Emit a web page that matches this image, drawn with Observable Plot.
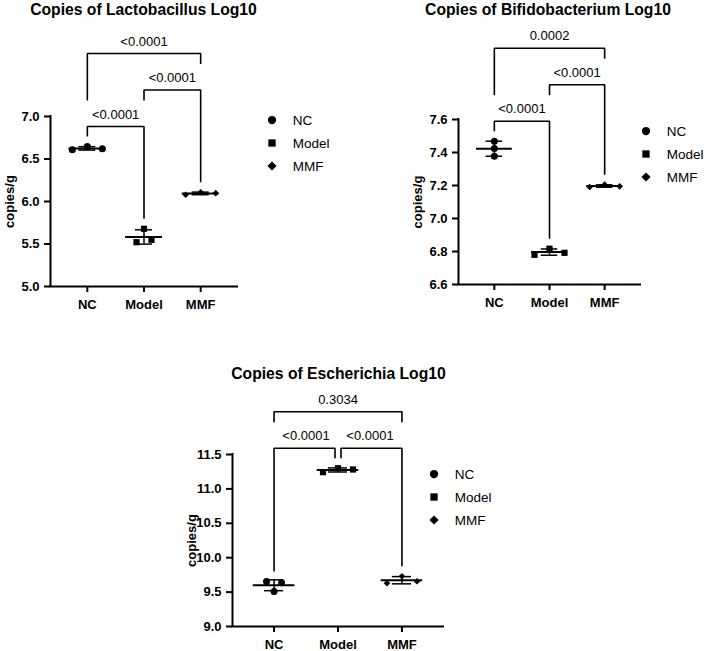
<!DOCTYPE html>
<html>
<head>
<meta charset="utf-8">
<script src="https://cdn.jsdelivr.net/npm/d3@7"></script>
<script src="https://cdn.jsdelivr.net/npm/@observablehq/plot@0.6"></script>
<style>
  body { margin: 0; background: #fff; }
  #page { position: relative; width: 704px; height: 651px; overflow: hidden;
          font-family: "Liberation Sans", Arial, sans-serif; color: #000; }
  .title { position: absolute; width: 400px; text-align: center; font-weight: bold;
           font-size: 15.7px; line-height: 15.7px; white-space: nowrap; }
  .panel, .legend { position: absolute; }
  .panel svg { display: block; overflow: visible; }
</style>
</head>
<body>
<div id="page"></div>
<script>
// Groups and their marker shapes
const groups = ["NC", "Model", "MMF"];
const groupSymbols = ["circle", "square", "diamond2"];

// Lactobacillus, log10 copies/g (three replicates per group)
const lactoNC = [6.608, 6.647, 6.620];
const lactoModel = [5.521, 5.679, 5.549];
const lactoMMF = [6.079, 6.109, 6.098];
const lactoTicks = [5.0, 5.5, 6.0, 6.5, 7.0];
const lactoComparisons = [
  ["NC", "Model", "<0.0001", 0],
  ["Model", "MMF", "<0.0001", 1],
  ["NC", "MMF", "<0.0001", 2]
];

// Bifidobacterium, log10 copies/g
const bifidoNC = [7.468, 7.424, 7.377];
const bifidoModel = [6.780, 6.817, 6.792];
const bifidoMMF = [7.191, 7.205, 7.195];
const bifidoTicks = [6.6, 6.8, 7.0, 7.2, 7.4, 7.6];
const bifidoComparisons = [
  ["NC", "Model", "<0.0001", 0],
  ["Model", "MMF", "<0.0001", 1],
  ["NC", "MMF", "0.0002", 2]
];

// Escherichia, log10 copies/g
const escherNC = [9.654, 9.509, 9.635];
const escherModel = [11.243, 11.301, 11.282];
const escherMMF = [9.629, 9.731, 9.658];
const escherTicks = [9.0, 9.5, 10.0, 10.5, 11.0, 11.5];
const escherComparisons = [
  ["NC", "Model", "<0.0001", 0],
  ["Model", "MMF", "<0.0001", 0],
  ["NC", "MMF", "0.3034", 1]
];

const FONT = '"Liberation Sans", Arial, sans-serif';
const page = document.getElementById("page");

function drawPanel({title, titleX, titleY, values, ticks, yDomain, comparisons, box, legendAt}) {
  const xDomain = [-0.65, 2.65];
  const innerW = box.width - box.marginLeft - box.marginRight;
  const innerH = box.height - box.marginTop - box.marginBottom;
  const pxX = innerW / (xDomain[1] - xDomain[0]);
  const pxY = innerH / (yDomain[1] - yDomain[0]);
  const yPx = (v) => box.marginTop + (yDomain[1] - v) * pxY;
  const yVal = (p) => yDomain[1] - (p - box.marginTop) / pxY;

  // Scatter points: replicates that would overlap vertically sit side by side
  const points = [];
  groups.forEach((g, gi) => {
    const vals = values[gi];
    const parent = vals.map((_, i) => i);
    const find = (i) => (parent[i] === i ? i : (parent[i] = find(parent[i])));
    for (let i = 0; i < vals.length; i++)
      for (let j = i + 1; j < vals.length; j++)
        if (Math.abs(vals[i] - vals[j]) * pxY < 6.8) parent[find(i)] = find(j);
    const rows = d3.group(vals.map((_, i) => i), find);
    for (const idx of rows.values())
      idx.forEach((i, k) => points.push({
        group: g, value: vals[i], x: gi + (k - (idx.length - 1) / 2) * 15 / pxX
      }));
  });

  // Mean ± SD per group
  const stats = groups.map((g, gi) => ({gi, mean: d3.mean(values[gi]), sd: d3.deviation(values[gi])}));

  // Significance brackets stacked in tiers above the data
  const topData = yPx(d3.max(values.flat()));
  const brs = comparisons.map(([a, b, label, tier]) => ({
    a: groups.indexOf(a), b: groups.indexOf(b), label, tier, top: topData - 20 - 36.5 * tier
  }));
  const lines = [];
  brs.forEach((br, k) => {
    const legEnd = (gi) => {
      const lower = brs.filter((o) => o.tier < br.tier && o.a <= gi && gi <= o.b);
      return lower.length ? d3.min(lower, (o) => o.top) - 26 : yPx(d3.max(values[gi])) - 10;
    };
    const shared = (gi) => brs.some((o) => o !== br && o.tier === br.tier && (o.a === gi || o.b === gi));
    const xa = br.a + (shared(br.a) ? 3 / pxX : 0);
    const xb = br.b - (shared(br.b) ? 3 / pxX : 0);
    lines.push(
      {k, x: xa, y: yVal(legEnd(br.a))},
      {k, x: xa, y: yVal(br.top)},
      {k, x: xb, y: yVal(br.top)},
      {k, x: xb, y: yVal(legEnd(br.b))}
    );
    br.xm = (br.a + br.b) / 2;
    br.y = yVal(br.top);
  });

  const chart = Plot.plot({
    width: box.width,
    height: box.height,
    marginLeft: box.marginLeft,
    marginRight: box.marginRight,
    marginTop: box.marginTop,
    marginBottom: box.marginBottom,
    x: {domain: xDomain},
    y: {domain: yDomain},
    symbol: {domain: groups, range: groupSymbols},
    style: {fontFamily: FONT, fontSize: "13px", color: "black", background: "transparent", overflow: "visible"},
    marks: [
      Plot.axisY({
        ticks, tickFormat: d3.format(".1f"), tickSize: 6, tickPadding: 5,
        fontWeight: "bold", fontSize: 13, strokeWidth: 2,
        label: "copies/g", labelAnchor: "center", labelArrow: false, labelOffset: 46
      }),
      Plot.axisX({
        ticks: [0, 1, 2], tickFormat: (i) => groups[i], tickSize: 6, tickPadding: 7,
        fontWeight: "bold", fontSize: 13, strokeWidth: 2, label: null
      }),
      Plot.ruleX([xDomain[0]], {y1: yDomain[0], y2: yDomain[1], strokeWidth: 2, strokeLinecap: "square"}),
      Plot.ruleY([yDomain[0]], {x1: xDomain[0], x2: xDomain[1], strokeWidth: 2, strokeLinecap: "square"}),
      Plot.ruleX(stats, {x: "gi", y1: (d) => d.mean - d.sd, y2: (d) => d.mean + d.sd, strokeWidth: 1.5}),
      Plot.ruleY(stats, {y: (d) => d.mean - d.sd, x1: (d) => d.gi - 0.15, x2: (d) => d.gi + 0.15, strokeWidth: 1.5}),
      Plot.ruleY(stats, {y: (d) => d.mean + d.sd, x1: (d) => d.gi - 0.15, x2: (d) => d.gi + 0.15, strokeWidth: 1.5}),
      Plot.ruleY(stats, {y: "mean", x1: (d) => d.gi - 0.325, x2: (d) => d.gi + 0.325, strokeWidth: 2}),
      Plot.dot(points, {filter: (d) => d.group !== "MMF", x: "x", y: "value", symbol: "group", fill: "black", r: 3.5}),
      Plot.dot(points, {filter: (d) => d.group === "MMF", x: "x", y: "value", symbol: "group", fill: "black", r: 3}),
      Plot.line(lines, {x: "x", y: "y", z: "k", stroke: "black", strokeWidth: 1.6, strokeLinejoin: "miter", strokeLinecap: "butt"}),
      Plot.text(brs, {x: "xm", y: "y", text: "label", dy: -12, fontSize: 13})
    ]
  });

  const holder = document.createElement("div");
  holder.className = "panel";
  holder.style.left = box.left + "px";
  holder.style.top = box.top + "px";
  holder.style.width = box.width + "px";
  holder.appendChild(chart);
  page.appendChild(holder);

  const head = document.createElement("div");
  head.className = "title";
  head.textContent = title;
  head.style.left = (titleX - 200) + "px";
  head.style.top = (titleY - 7.7) + "px";
  page.appendChild(head);

  const legend = Plot.legend({
    symbol: {domain: groups, range: groupSymbols},
    fill: "black", r: 3, swatchWidth: 28, swatchHeight: 22, columns: 1,
    className: "grp",
    style: {fontFamily: FONT, fontSize: "13.5px", color: "black", margin: "0"}
  });
  const lw = document.createElement("div");
  lw.className = "legend";
  lw.style.left = (legendAt[0] - 14) + "px";
  lw.style.top = (legendAt[1] - 11) + "px";
  lw.appendChild(legend);
  page.appendChild(lw);
}

drawPanel({
  title: "Copies of Lactobacillus Log10", titleX: 143.5, titleY: 10,
  values: [lactoNC, lactoModel, lactoMMF], ticks: lactoTicks, yDomain: [5, 7],
  comparisons: lactoComparisons,
  box: {left: 0, top: 22, width: 250, height: 300, marginLeft: 50, marginRight: 13, marginTop: 94, marginBottom: 36},
  legendAt: [272, 120]
});

drawPanel({
  title: "Copies of Bifidobacterium Log10", titleX: 548, titleY: 10,
  values: [bifidoNC, bifidoModel, bifidoMMF], ticks: bifidoTicks, yDomain: [6.6, 7.6],
  comparisons: bifidoComparisons,
  box: {left: 408, top: 22, width: 245, height: 300, marginLeft: 50, marginRight: 13, marginTop: 97, marginBottom: 38},
  legendAt: [646, 131]
});

drawPanel({
  title: "Copies of Escherichia Log10", titleX: 338.5, titleY: 374,
  values: [escherNC, escherModel, escherMMF], ticks: escherTicks, yDomain: [9, 11.5],
  comparisons: escherComparisons,
  box: {left: 182, top: 382, width: 274, height: 268, marginLeft: 50, marginRight: 13, marginTop: 72, marginBottom: 24},
  legendAt: [434, 474]
});
</script>
</body>
</html>
